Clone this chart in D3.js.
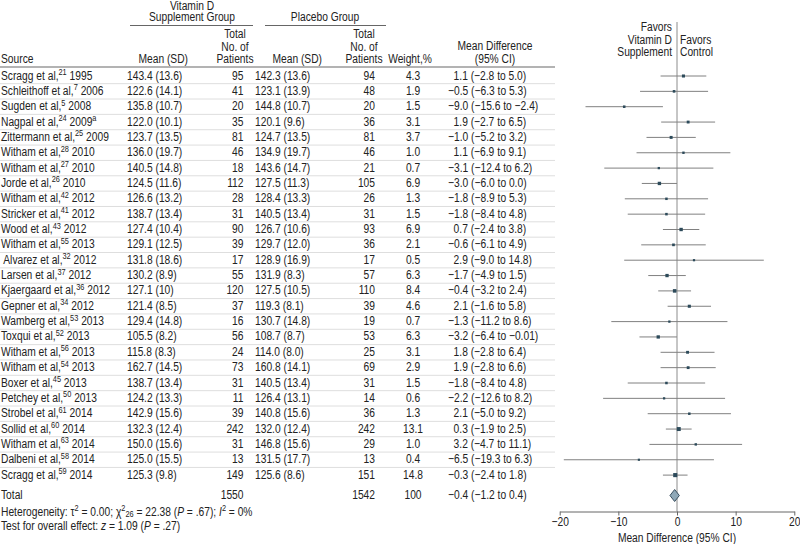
<!DOCTYPE html>
<html><head><meta charset="utf-8">
<script src="https://cdn.jsdelivr.net/npm/d3@7"></script>
<style>body{margin:0;background:#fff}text{white-space:pre}</style>
</head><body>
<svg id="c" width="800" height="544"></svg>
<script>
// ---------- data ----------
const sources = ["Scragg et al,","Schleithoff et al,","Sugden et al,","Nagpal et al,","Zittermann et al,","Witham et al,","Witham et al,","Jorde et al,","Witham et al,","Stricker et al,","Wood et al,","Witham et al,"," Alvarez et al,","Larsen et al,","Kjaergaard et al,","Gepner et al,","Wamberg et al,","Toxqui et al,","Witham et al,","Witham et al,","Boxer et al,","Petchey et al,","Strobel et al,","Sollid et al,","Witham et al,","Dalbeni et al,","Scragg et al,"];
const refs = ["21","7","5","24","25","28","27","26","42","41","43","55","32","37","36","34","53","52","56","54","45","50","61","60","63","58","59"];
const years = ["1995","2006","2008","2009","2009","2010","2010","2010","2012","2012","2012","2013","2012","2012","2012","2012","2013","2013","2013","2013","2013","2013","2014","2014","2014","2014","2014"];
const notes = ["","","","a","","","","","","","","","","","","","","","","","","","","","","",""];
const vitMean = [143.4,122.6,135.8,122.0,123.7,136.0,140.5,124.5,126.6,138.7,127.4,129.1,131.8,130.2,127.1,121.4,129.4,105.5,115.8,162.7,138.7,124.2,142.9,132.3,150.0,125.0,125.3];
const vitSD = ["13.6","14.1","10.7","10.1","13.5","19.7","14.8","11.6","13.2","13.4","10.4","12.5","18.6","8.9","10","8.5","14.8","8.2","8.3","14.5","13.4","13.3","15.6","12.4","15.6","15.5","9.8"];
const vitN = [95,41,20,35,81,46,18,112,28,31,90,39,17,55,120,37,16,56,24,73,31,11,39,242,31,13,149];
const plaMean = [142.3,123.1,144.8,120.1,124.7,134.9,143.6,127.5,128.4,140.5,126.7,129.7,128.9,131.9,127.5,119.3,130.7,108.7,114.0,160.8,140.5,126.4,140.8,132.0,146.8,131.5,125.6];
const plaSD = ["13.6","13.9","10.7","9.6","13.5","19.7","14.7","11.3","13.3","13.4","10.6","12.0","16.9","8.3","10.5","8.1","14.8","8.7","8.0","14.1","13.4","13.1","15.6","12.4","15.6","17.7","8.6"];
const plaN = [94,48,20,36,81,46,21,105,26,31,93,36,17,57,110,39,19,53,25,69,31,14,36,242,29,13,151];
const weights = [4.3,1.9,1.5,3.1,3.7,1.0,0.7,6.9,1.3,1.5,6.9,2.1,0.5,6.3,8.4,4.6,0.7,6.3,3.1,2.9,1.5,0.6,1.3,13.1,1.0,0.4,14.8];
const md = [1.1,-0.5,-9.0,1.9,-1.0,1.1,-3.1,-3.0,-1.8,-1.8,0.7,-0.6,2.9,-1.7,-0.4,2.1,-1.3,-3.2,1.8,1.9,-1.8,-2.2,2.1,0.3,3.2,-6.5,-0.3];
const ciLo = [-2.8,-6.3,-15.6,-2.7,-5.2,-6.9,-12.4,-6.0,-8.9,-8.4,-2.4,-6.1,-9.0,-4.9,-3.2,-1.6,-11.2,-6.4,-2.8,-2.8,-8.4,-12.6,-5.0,-1.9,-4.7,-19.3,-2.4];
const ciHi = [5.0,5.3,-2.4,6.5,3.2,9.1,6.2,0.0,5.3,4.8,3.8,4.9,14.8,1.5,2.4,5.8,8.6,-0.01,6.4,6.6,4.8,8.2,9.2,2.5,11.1,6.3,1.8];
const totalVitN = 1550, totalPlaN = 1542, totalWeight = 100;
const totalMD = -0.4, totalLo = -1.2, totalHi = 0.4;
const xTicks = [-20,-10,0,10,20];

// ---------- setup ----------
const svg = d3.select("#c");
function measure(ff){const t=svg.append("text").attr("font-family",ff).attr("font-size",20).text("Patients Source abc 123");const w=t.node().getComputedTextLength();t.remove();return w;}
const narrowOK = Math.abs(measure("'Liberation Sans Narrow', monospace") - measure("monospace")) > 0.5;
const FF = narrowOK ? "'Liberation Sans Narrow'" : "'Liberation Sans', Arial, sans-serif";
const sx = narrowOK ? 1 : 0.82;
const FS = 12.5, SUP = 9;
const INK = "#222";

function T(x, y, anchor, parts, opts = {}) {
  const t = svg.append("text")
    .attr("transform", `translate(${x},${y}) scale(${sx},1)`)
    .attr("text-anchor", anchor).attr("font-family", FF)
    .attr("font-size", opts.size || FS).attr("fill", opts.fill || INK);
  if (typeof parts === "string") { t.text(parts); return t; }
  let cur = 0;
  parts.forEach(p => {
    const ts = t.append("tspan").text(p.t);
    const sh = p.shift || 0;
    if (sh !== cur) { ts.attr("dy", -(sh - cur)); cur = sh; }
    if (p.small) ts.attr("font-size", SUP);
    if (p.it) ts.attr("font-style", "italic");
    if (p.dx) ts.attr("dx", p.dx);
  });
  return t;
}
const neg = v => (v < 0 ? "\u2212" : "");
function fnum(v) {
  const a = Math.abs(v);
  const s = Math.abs(a * 10 - Math.round(a * 10)) > 1e-9 ? String(a) : a.toFixed(1);
  return neg(v) + s;
}

// ---------- scales ----------
const x = d3.scaleLinear().domain([-20, 20]).range([559.7, 794.3]);
const y = d3.scaleLinear().domain([0, 26]).range([76, 76 + 26 * 15.35]);
const yTotal = 495.5, axisY = 511.5;
const colX = { src: 1, vMean: 127, vN: 243.5, pMean: 255, pN: 375, w: 413, md: 448 };

// ---------- header ----------
T(192, 9.5, "middle", "Vitamin D");
T(192, 21, "middle", "Supplement Group");
T(325, 21, "middle", "Placebo Group");
svg.append("line").attr("x1",130).attr("x2",253).attr("y1",25.5).attr("y2",25.5).attr("stroke","#666").attr("stroke-width",1);
svg.append("line").attr("x1",265).attr("x2",386).attr("y1",25.5).attr("y2",25.5).attr("stroke","#666").attr("stroke-width",1);
T(colX.src, 62.7, "start", "Source");
T(188, 62.7, "end", "Mean (SD)");
[["Total",38],["No. of",50.5],["Patients",62.7]].forEach(([s,b]) => { T(235, b, "middle", s); T(364, b, "middle", s); });
T(322, 62.7, "end", "Mean (SD)");
T(410, 62.7, "middle", "Weight,%");
T(495, 50.3, "middle", "Mean Difference");
T(495, 62.7, "middle", "(95% CI)");
T(672, 30.7, "end", "Favors");
T(672, 43.5, "end", "Vitamin D");
T(672, 56, "end", "Supplement");
T(680, 43.5, "start", "Favors");
T(680, 56, "start", "Control");

// header rule and row separators
svg.append("line").attr("x1",0).attr("x2",555).attr("y1",67).attr("y2",67).attr("stroke","#9a9a9a").attr("stroke-width",1.5);
d3.range(sources.length - 1).forEach(i => {
  const yy = (y(i) + y(i + 1)) / 2;
  svg.append("line").attr("x1",0).attr("x2",555).attr("y1",yy).attr("y2",yy).attr("stroke","#dedede").attr("stroke-width",1);
});

// zero reference line
svg.append("line").attr("x1",x(0)).attr("x2",x(0)).attr("y1",22).attr("y2",axisY).attr("stroke","#8c8c8c").attr("stroke-width",1);

// ---------- rows ----------
sources.forEach((s, i) => {
  const b = y(i) + 3.5;
  const parts = [{t: s}, {t: refs[i], shift: 4.5, small: true}, {t: " " + years[i]}];
  if (notes[i]) parts.push({t: notes[i], shift: 4.5, small: true});
  T(colX.src, b, "start", parts);
  T(colX.vMean, b, "start", vitMean[i].toFixed(1) + " (" + vitSD[i] + ")");
  T(colX.vN, b, "end", String(vitN[i]));
  T(colX.pMean, b, "start", plaMean[i].toFixed(1) + " (" + plaSD[i] + ")");
  T(colX.pN, b, "end", String(plaN[i]));
  T(colX.w, b, "middle", weights[i].toFixed(1));
  T(colX.md + (md[i] < 0 ? 0 : 5.6), b, "start", fnum(md[i]) + " (" + fnum(ciLo[i]) + " to " + fnum(ciHi[i]) + ")");

  svg.append("line").attr("x1",x(ciLo[i])).attr("x2",x(ciHi[i])).attr("y1",y(i)).attr("y2",y(i)).attr("stroke","#808080").attr("stroke-width",1);
  const sz = 1.8 + 0.6 * Math.sqrt(weights[i]);
  svg.append("rect").attr("x",x(md[i]) - sz/2).attr("y",y(i) - sz/2).attr("width",sz).attr("height",sz).attr("fill","#2c4a5a");
});

// total row
const bt = yTotal + 3.5;
T(colX.src, bt, "start", "Total");
T(colX.vN, bt, "end", String(totalVitN));
T(colX.pN, bt, "end", String(totalPlaN));
T(colX.w, bt, "middle", String(totalWeight));
T(colX.md, bt, "start", fnum(totalMD) + " (" + fnum(totalLo) + " to " + fnum(totalHi) + ")");
svg.append("path")
  .attr("d", `M${x(totalLo)},${yTotal} L${x(totalMD)},${yTotal-6} L${x(totalHi)},${yTotal} L${x(totalMD)},${yTotal+6} Z`)
  .attr("fill","#8fa8b7").attr("stroke","#3b5060").attr("stroke-width",1);

// footnotes
T(colX.src, 515.6, "start", [
  {t: "Heterogeneity: \u03c4"}, {t: "2", shift: 4.5, small: true}, {t: " = 0.00; \u03c7"},
  {t: "2", shift: 4.5, small: true}, {t: "26", shift: -1.5, small: true},
  {t: " = 22.38 ("}, {t: "P", it: true}, {t: " = .67); "}, {t: "I", it: true},
  {t: "2", shift: 4.5, small: true}, {t: " = 0%"}
]);
T(colX.src, 530.2, "start", [
  {t: "Test for overall effect: "}, {t: "z", it: true}, {t: " = 1.09 ("}, {t: "P", it: true}, {t: " = .27)"}
]);

// ---------- axis ----------
const ax = svg.append("g").attr("transform", `translate(0,${axisY})`)
  .call(d3.axisBottom(x).tickValues(xTicks).tickSize(4).tickSizeOuter(0).tickPadding(2)
    .tickFormat(d => neg(d) + Math.abs(d)));
ax.select(".domain").attr("stroke","#666");
ax.selectAll(".tick line").attr("stroke","#666");
ax.selectAll(".tick text").attr("font-family",FF).attr("font-size",FS).attr("fill",INK)
  .attr("transform",`scale(${sx},1)`);
T(x(0), 542, "middle", "Mean Difference (95% CI)");
</script>
</body></html>
